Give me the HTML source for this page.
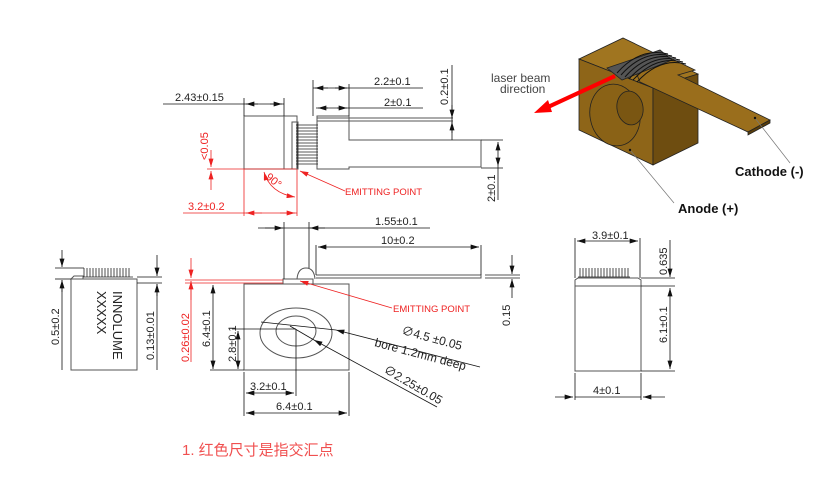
<!DOCTYPE html>
<html><head><meta charset="utf-8"><style>
html,body{margin:0;padding:0;background:#fff}
svg{display:block}
text{font-family:"Liberation Sans","Noto Sans CJK SC",sans-serif}
</style></head><body>
<svg width="834" height="489" viewBox="0 0 834 489" xmlns="http://www.w3.org/2000/svg">
<defs>
<marker id="a" viewBox="0 0 10 6" refX="10" refY="3" markerWidth="9" markerHeight="5" orient="auto-start-reverse" markerUnits="userSpaceOnUse"><path d="M0,0L10,3L0,6z" fill="#111"/></marker>
<marker id="r" viewBox="0 0 10 6" refX="10" refY="3" markerWidth="9" markerHeight="5" orient="auto-start-reverse" markerUnits="userSpaceOnUse"><path d="M0,0L10,3L0,6z" fill="#e22"/></marker>
</defs>
<g fill="none" stroke="#555" stroke-width="1">
<rect x="244" y="116" width="40" height="53"/>
<rect x="284" y="116" width="13" height="53"/>
<rect x="292" y="122" width="6" height="47"/>
<path d="M317,116H349V140H481V167H349V169H317Z"/>
<line x1="317" y1="121" x2="453" y2="121"/>
<line x1="317" y1="118" x2="453" y2="118"/>
</g>
<g stroke="#222" stroke-width="0.8">
<path d="M296,125H318M296,128H318M296,131H318M296,134H318M296,137H318M296,140H318M296,143H318M296,146H318M296,149H318M296,152H318M296,155H318M296,158H318M296,161H318M296,164H318"/>
<line x1="297" y1="124" x2="297" y2="168"/>
</g>
<g stroke="#111" stroke-width="0.8" fill="none">
<line x1="163" y1="104" x2="284" y2="104"/>
<line x1="244" y1="98" x2="244" y2="116"/><line x1="284" y1="98" x2="284" y2="116"/>
<line x1="246" y1="104" x2="258" y2="104" marker-start="url(#a)"/><line x1="270" y1="104" x2="282" y2="104" marker-end="url(#a)"/>
<line x1="313" y1="80" x2="313" y2="116"/><line x1="349" y1="84" x2="349" y2="116"/>
<line x1="313" y1="88" x2="423" y2="88"/>
<line x1="315" y1="88" x2="328" y2="88" marker-start="url(#a)"/><line x1="335" y1="88" x2="347" y2="88" marker-end="url(#a)"/>
<line x1="316" y1="108" x2="423" y2="108"/>
<line x1="318" y1="108" x2="328" y2="108" marker-start="url(#a)"/><line x1="337" y1="108" x2="347" y2="108" marker-end="url(#a)"/>
<line x1="452" y1="65" x2="452" y2="140"/>
<line x1="452" y1="105" x2="452" y2="118" marker-end="url(#a)"/><line x1="452" y1="133" x2="452" y2="122" marker-end="url(#a)"/>
<line x1="481" y1="140" x2="503" y2="140"/><line x1="481" y1="168" x2="503" y2="168"/>
<line x1="498" y1="142" x2="498" y2="166" marker-start="url(#a)" marker-end="url(#a)"/>
<line x1="498" y1="166" x2="498" y2="200"/>
</g>
<g fill="#222" font-size="11">
<text x="175" y="101">2.43±0.15</text>
<text x="374" y="85">2.2±0.1</text>
<text x="384" y="106">2±0.1</text>
<text transform="translate(448,105) rotate(-90)">0.2±0.1</text>
<text transform="translate(495,202) rotate(-90)">2±0.1</text>
</g>
<g stroke="#e22" stroke-width="0.8" fill="none">
<line x1="207" y1="169" x2="296" y2="169"/>
<line x1="211" y1="150" x2="211" y2="167" marker-end="url(#r)"/>
<line x1="211" y1="190" x2="211" y2="171" marker-end="url(#r)"/>
<line x1="244" y1="169" x2="244" y2="216"/><line x1="297" y1="169" x2="297" y2="216"/>
<line x1="183" y1="213" x2="297" y2="213"/>
<line x1="246" y1="213" x2="262" y2="213" marker-start="url(#r)"/><line x1="280" y1="213" x2="295" y2="213" marker-end="url(#r)"/>
<path d="M264,172 Q270,193 295,197" marker-start="url(#r)" marker-end="url(#r)"/>
<line x1="345" y1="191" x2="300" y2="171" marker-end="url(#r)"/>
</g>
<g fill="#e22" font-size="11">
<text transform="translate(208,160) rotate(-90)">&lt;0.05</text>
<text transform="translate(265,178) rotate(40)">90°</text>
<text x="188" y="210">3.2±0.2</text>
<text x="345" y="195" font-size="9.5">EMITTING POINT</text>
</g>
<g fill="none" stroke="#555" stroke-width="1">
<rect x="244" y="284" width="105" height="86"/>
<rect x="283" y="279" width="30" height="5"/>
<path d="M297,279 Q298,268 306,268 Q314,268 315,279"/>
<path d="M316,275H481V278H316"/>
<line x1="485" y1="275" x2="520" y2="275"/><line x1="485" y1="278" x2="520" y2="278"/>
<ellipse cx="296" cy="333" rx="36" ry="25"/>
<ellipse cx="296" cy="331" rx="20" ry="15"/>
</g>
<g stroke="#111" stroke-width="0.8" fill="none">
<line x1="284" y1="222" x2="284" y2="279"/><line x1="309" y1="222" x2="309" y2="268"/>
<line x1="258" y1="228" x2="430" y2="228"/>
<line x1="265" y1="228" x2="283" y2="228" marker-end="url(#a)"/><line x1="325" y1="228" x2="310" y2="228" marker-end="url(#a)"/>
<line x1="481" y1="245" x2="481" y2="275"/><line x1="316" y1="245" x2="316" y2="275"/>
<line x1="318" y1="247" x2="479" y2="247" marker-start="url(#a)" marker-end="url(#a)"/>
<line x1="512" y1="255" x2="512" y2="274" marker-end="url(#a)"/><line x1="512" y1="298" x2="512" y2="279" marker-end="url(#a)"/>
<line x1="213" y1="285" x2="213" y2="369" marker-start="url(#a)" marker-end="url(#a)"/>
<line x1="210" y1="370" x2="244" y2="370"/>
<line x1="232" y1="329" x2="296" y2="329"/>
<line x1="238" y1="331" x2="238" y2="369" marker-start="url(#a)" marker-end="url(#a)"/>
<line x1="296" y1="329" x2="296" y2="396"/>
<line x1="246" y1="393" x2="294" y2="393" marker-start="url(#a)" marker-end="url(#a)"/>
<line x1="244" y1="372" x2="244" y2="416"/><line x1="349" y1="372" x2="349" y2="416"/>
<line x1="246" y1="413" x2="347" y2="413" marker-start="url(#a)" marker-end="url(#a)"/>
<line x1="480" y1="367" x2="336" y2="330" marker-end="url(#a)"/>
<line x1="336" y1="330" x2="261" y2="322"/>
<line x1="437" y1="407" x2="314" y2="340" marker-end="url(#a)"/>
<line x1="314" y1="340" x2="290" y2="326"/>
</g>
<g fill="#222" font-size="12">
<text x="375" y="225" font-size="11">1.55±0.1</text>
<text x="381" y="244" font-size="11">10±0.2</text>
<text transform="translate(510,326) rotate(-90)" font-size="11">0.15</text>
<text transform="translate(210,347) rotate(-90)" font-size="11">6.4±0.1</text>
<text transform="translate(236,362) rotate(-90)" font-size="11">2.8±0.1</text>
<text x="250" y="390" font-size="11">3.2±0.1</text>
<text x="276" y="410" font-size="11">6.4±0.1</text>
<text transform="translate(401,334) rotate(15)">∅4.5 ±0.05</text>
<text transform="translate(374,346) rotate(15)">bore 1.2mm deep</text>
<text transform="translate(383,372) rotate(30)">∅2.25±0.05</text>
</g>
<g stroke="#e22" stroke-width="0.8" fill="none">
<line x1="191" y1="258" x2="191" y2="278" marker-end="url(#r)"/>
<line x1="191" y1="300" x2="191" y2="281" marker-end="url(#r)"/>
<line x1="191" y1="281" x2="191" y2="362"/>
<line x1="185" y1="280" x2="283" y2="280"/>
<line x1="185" y1="283" x2="283" y2="283"/>
<line x1="392" y1="308" x2="300" y2="281" marker-end="url(#r)"/>
</g>
<g fill="#e22" font-size="11">
<text transform="translate(189,362) rotate(-90)">0.26±0.02</text>
<text x="393" y="312" font-size="9.5">EMITTING POINT</text>
</g>
<g fill="none" stroke="#555">
<rect x="71" y="279" width="66" height="91"/>
<path d="M71,279 L74,276 H83 V279"/>
</g>
<g stroke="#222" stroke-width="0.8"><path d="M84,268V277M87,268V277M90,268V277M93,268V277M96,268V277M99,268V277M102,268V277M105,268V277M108,268V277M111,268V277M114,268V277M117,268V277M120,268V277M123,268V277M126,268V277M129,268V277"/><line x1="83" y1="277" x2="133" y2="277"/></g>
<g stroke="#111" stroke-width="0.8" fill="none">
<line x1="55" y1="268" x2="84" y2="268"/><line x1="55" y1="279" x2="71" y2="279"/>
<line x1="62" y1="250" x2="62" y2="267" marker-end="url(#a)"/><line x1="62" y1="292" x2="62" y2="280" marker-end="url(#a)"/>
<line x1="62" y1="280" x2="62" y2="370"/>
<line x1="137" y1="277" x2="162" y2="277"/><line x1="137" y1="283" x2="162" y2="283"/>
<line x1="157" y1="255" x2="157" y2="276" marker-end="url(#a)"/><line x1="157" y1="296" x2="157" y2="284" marker-end="url(#a)"/>
<line x1="157" y1="284" x2="157" y2="370"/>
</g>
<g fill="#222">
<text transform="translate(59,345) rotate(-90)" font-size="11">0.5±0.2</text>
<text transform="translate(154,360) rotate(-90)" font-size="11">0.13±0.01</text>
<text transform="translate(113,291) rotate(90)" font-size="13">INNOLUME</text>
<text transform="translate(97,291) rotate(90)" font-size="13">XXXXX</text>
</g>
<g fill="none" stroke="#555">
<rect x="575" y="286" width="66" height="85"/>
<path d="M575,286V280L578,278H638L641,280V286"/>
</g>
<g stroke="#222" stroke-width="0.8"><path d="M580,268V277M583,268V277M586,268V277M589,268V277M592,268V277M595,268V277M598,268V277M601,268V277M604,268V277M607,268V277M610,268V277M613,268V277M616,268V277M619,268V277M622,268V277M625,268V277M628,268V277"/><line x1="578" y1="277" x2="630" y2="277"/></g>
<g stroke="#111" stroke-width="0.8" fill="none">
<line x1="575" y1="238" x2="575" y2="278"/><line x1="640" y1="238" x2="640" y2="278"/>
<line x1="577" y1="241" x2="638" y2="241" marker-start="url(#a)" marker-end="url(#a)"/>
<line x1="641" y1="278" x2="675" y2="278"/><line x1="641" y1="286" x2="675" y2="286"/><line x1="641" y1="371" x2="675" y2="371"/>
<line x1="670" y1="240" x2="670" y2="277" marker-end="url(#a)"/>
<line x1="670" y1="288" x2="670" y2="369" marker-start="url(#a)" marker-end="url(#a)"/>
<line x1="575" y1="373" x2="575" y2="400"/><line x1="641" y1="373" x2="641" y2="400"/>
<line x1="555" y1="397" x2="573" y2="397" marker-end="url(#a)"/><line x1="665" y1="397" x2="643" y2="397" marker-end="url(#a)"/>
<line x1="575" y1="397" x2="641" y2="397"/>
</g>
<g fill="#222" font-size="11">
<text x="592" y="239">3.9±0.1</text>
<text transform="translate(667,275) rotate(-90)">0.635</text>
<text transform="translate(667,343) rotate(-90)">6.1±0.1</text>
<text x="593" y="394">4±0.1</text>
</g>
<!-- 3D -->
<g stroke="#222" stroke-width="0.8">
<path d="M579,59 L623,38 L698,74 L653,88 Z" fill="#a07520"/>
<path d="M579,59 L653,88 L653,165 L579,130 Z" fill="#8e6518"/>
<path d="M653,88 L698,74 L698,143 L653,165 Z" fill="#6e4d10"/>
<ellipse cx="615" cy="115" rx="25" ry="31" fill="#8a6216" transform="rotate(-10 615 115)"/>
<ellipse cx="630" cy="108" rx="13" ry="17" fill="#7a5612" transform="rotate(-10 630 108)"/>
<path d="M670,58 L695,70 L678,75 L770,120 L748,132 L640,82 L635,70 Z" fill="#9a6e1c"/>
<path d="M748,132 L770,120 L770,123 L748,135 Z" fill="#5a3e0a"/>
<path d="M607,68 L660,50 L672,60 L622,80 Z" fill="#555"/>
</g>
<g stroke="#111" stroke-width="1" fill="none">
<path d="M617,73 Q640,47 668,54 M621,75 Q644,49 672,56 M625,77 Q648,51 676,58 M629,79 Q652,53 680,60 M633,80 Q656,55 683,62 M637,82 Q660,57 686,64"/>
</g>
<line x1="615" y1="76" x2="548" y2="107" stroke="#f00" stroke-width="4"/>
<path d="M534,113 L548,100 L552,112 Z" fill="#f00"/>
<g stroke="#777" stroke-width="0.7"><line x1="630" y1="150" x2="674" y2="203"/><line x1="755" y1="118" x2="790" y2="163"/></g>
<circle cx="630" cy="150" r="1.2" fill="#111"/><circle cx="755" cy="118" r="1.2" fill="#111"/>
<g fill="#444" font-size="12"><text x="491" y="82">laser beam</text><text x="500" y="93">direction</text></g>
<g fill="#111" font-size="13" font-weight="bold"><text x="735" y="176">Cathode (-)</text><text x="678" y="213">Anode (+)</text></g>
<text x="182" y="455" font-size="15" fill="#f05050">1. 红色尺寸是指交汇点</text>
</svg>
</body></html>
